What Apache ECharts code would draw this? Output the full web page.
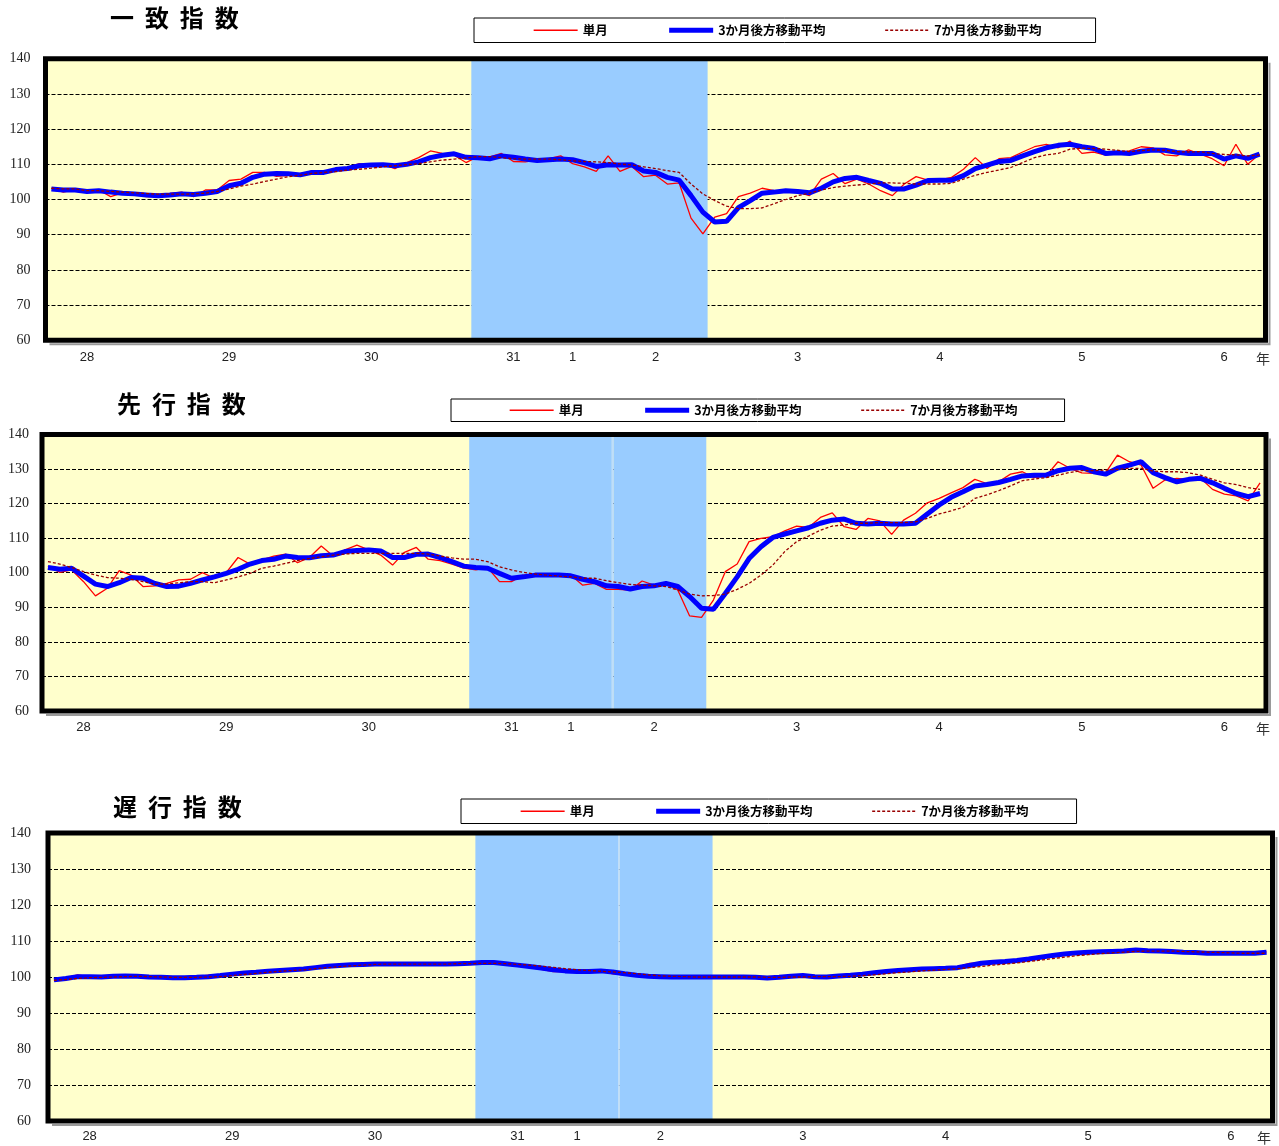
<!DOCTYPE html>
<html><head><meta charset="utf-8">
<script src="https://cdn.jsdelivr.net/npm/echarts@6/dist/echarts.min.js"></script>
<style>html,body{margin:0;padding:0;background:#fff}#c{width:1279px;height:1146px}</style>
</head><body><div id="c"></div>
<script>
// Month index 0 = 2015/10 ... 102 = 2024/4
const tickIndex  = [3, 15, 27, 39, 44, 51, 63, 75, 87, 99];
const tickLabels = ['28','29','30','31','1','2','3','4','5','6'];
const seriesNames = ['単月', '3か月後方移動平均', '7か月後方移動平均'];

// 一致指数
const coinSingle = [103.2,102.1,102.8,102.3,102.7,100.8,101.9,101.9,100.8,100.8,101.7,102.1,100.8,102.7,102.7,105.4,105.8,107.7,107.7,106.6,106.9,107.0,108.2,107.7,108.6,109.1,110.2,109.8,110.0,108.8,110.5,111.9,113.8,113.1,112.6,110.5,112.2,112.1,113.1,110.8,110.7,111.2,111.6,112.4,110.2,109.3,108.0,112.4,108.0,109.4,106.5,106.9,104.4,104.7,94.7,90.2,95.0,96.0,100.8,101.8,103.2,102.5,102.4,102.1,101.1,105.8,107.4,104.5,105.8,104.4,102.5,101.1,104.4,106.5,105.5,105.6,106.3,108.6,111.9,108.8,111.6,111.9,113.5,115.0,115.7,114.7,116.6,113.1,113.5,112.6,113.3,113.8,115.0,114.7,112.7,112.4,114.1,112.9,111.6,109.6,115.7,110.0,112.9];
const coinMA3 = [103.0,102.7,102.7,102.3,102.5,102.1,101.8,101.6,101.3,101.1,101.3,101.6,101.4,101.8,102.3,103.9,104.6,106.3,107.2,107.4,107.3,107.0,107.7,107.7,108.5,108.8,109.6,109.8,109.9,109.6,110.0,110.7,111.9,112.6,113.0,112.0,111.9,111.6,112.4,112.0,111.5,111.1,111.3,111.5,111.3,110.5,109.4,109.9,109.8,109.9,108.1,107.7,106.3,105.5,101.1,96.4,93.6,93.8,97.7,99.7,101.8,102.1,102.5,102.3,101.9,103.2,105.0,106.0,106.3,105.4,104.6,103.0,103.0,104.1,105.4,105.5,105.5,106.8,108.8,109.8,110.8,111.1,112.4,113.6,114.7,115.4,115.7,115.0,114.5,113.1,113.3,113.1,113.7,114.1,114.0,113.4,113.1,113.1,113.1,111.5,112.4,111.7,112.9];
const coinMA7 = [103.2,103.0,103.0,102.5,102.5,102.3,102.1,101.9,101.7,101.5,101.5,101.5,101.6,101.8,102.3,103.0,103.8,104.4,105.1,105.8,106.5,106.9,107.4,107.7,107.9,108.4,108.6,108.9,109.3,109.6,109.9,110.2,110.7,111.2,111.5,111.8,112.2,112.2,111.9,111.6,111.5,111.5,111.5,111.3,111.0,110.8,110.7,110.5,110.1,109.8,109.3,108.8,108.2,107.7,104.4,101.6,99.7,98.1,97.4,97.4,97.6,98.8,100.0,101.1,101.8,102.7,103.4,103.8,104.1,104.4,104.7,104.7,104.6,104.4,104.4,104.4,104.6,105.8,106.9,107.7,108.4,109.1,110.5,111.9,112.7,113.1,114.3,114.6,114.5,114.3,114.0,113.6,113.9,114.1,114.0,113.6,113.5,113.6,113.1,112.8,112.7,112.4,112.6];

// 先行指数
const leadSingle = [101.9,100.1,100.8,97.4,93.3,95.5,100.6,99.3,96.0,96.2,96.9,97.9,98.1,100.0,98.4,100.0,104.4,102.5,103.7,104.8,105.4,102.9,104.4,107.7,104.8,106.6,108.0,106.6,105.1,102.2,105.9,107.3,103.9,103.5,102.5,101.3,100.8,101.5,97.4,97.4,99.3,99.5,99.3,99.3,99.3,96.4,96.9,95.2,95.2,95.0,97.6,96.4,96.7,95.0,87.5,87.1,92.1,100.3,102.5,109.0,109.9,110.4,112.1,113.5,113.1,116.0,117.3,113.3,112.5,115.7,115.0,111.1,115.2,117.2,120.2,121.5,123.1,124.6,127.0,125.8,126.3,128.5,129.2,127.5,128.0,132.1,130.2,128.9,128.7,128.9,134.0,132.1,131.1,124.4,126.8,127.3,127.0,127.3,124.1,122.7,122.2,120.8,126.0];
const leadMA3 = [101.5,101.0,101.3,99.0,96.7,96.0,97.1,98.6,98.4,96.9,96.0,96.1,96.9,97.9,98.8,99.8,101.0,102.5,103.5,103.9,104.8,104.4,104.3,104.9,105.1,106.1,106.4,106.6,106.3,104.4,104.4,105.3,105.4,104.4,103.2,101.9,101.5,101.3,99.8,98.4,98.8,99.3,99.3,99.3,99.1,98.1,97.4,96.2,96.0,95.3,96.0,96.2,96.9,96.0,93.1,89.7,89.4,94.0,98.8,104.1,107.5,110.2,111.2,112.1,113.0,114.3,115.2,115.5,114.3,114.1,114.3,114.1,114.1,114.3,117.0,119.6,121.8,123.4,125.1,125.5,126.1,127.0,128.0,128.2,128.2,129.5,130.2,130.4,129.2,128.5,130.2,131.1,132.1,128.9,127.5,126.3,127.0,127.3,126.0,124.4,122.9,122.0,122.9];
const leadMA7 = [103.2,102.5,101.5,100.3,99.3,98.6,98.4,98.1,97.4,96.7,96.7,97.1,97.4,97.4,97.1,97.9,98.8,99.8,101.3,101.9,102.7,103.5,104.1,104.6,105.1,105.4,105.6,105.6,105.6,105.6,105.6,105.6,105.4,104.8,104.3,103.9,103.9,103.2,101.7,100.8,100.1,99.6,99.3,99.0,98.8,98.4,98.4,97.7,97.1,96.6,96.4,96.2,96.0,95.0,93.8,93.3,93.4,93.8,95.2,96.9,99.3,102.2,106.1,109.0,110.6,112.3,113.5,113.8,114.3,114.3,114.5,114.5,114.5,114.7,115.7,117.0,117.9,118.9,121.5,122.5,123.7,125.1,126.6,127.1,127.5,128.2,129.0,129.5,129.5,129.7,129.9,130.2,130.2,129.4,129.2,129.2,128.9,128.2,127.0,126.0,125.5,124.6,124.1];

// 遅行指数
const lagSingle = [98.9,99.8,100.6,100.0,99.9,100.2,100.4,100.1,99.9,99.7,99.7,99.9,100.1,100.5,100.5,101.0,101.2,101.4,101.7,101.9,102.1,102.4,102.9,103.2,103.3,103.5,103.6,103.6,103.7,103.5,103.6,103.6,103.6,103.6,103.8,103.9,104.1,103.9,103.4,103.0,102.6,102.1,101.5,101.6,101.5,101.6,101.8,100.9,100.6,100.3,100.1,100.0,100.0,100.0,100.0,100.0,100.0,100.0,100.0,99.8,99.5,100.0,100.3,100.5,100.0,100.0,100.4,100.6,100.9,101.3,101.6,101.9,102.1,102.2,102.3,102.4,102.8,103.8,103.9,104.2,104.4,104.8,105.2,105.8,106.2,106.6,106.8,106.9,107.1,107.2,107.3,107.7,107.2,107.0,107.0,106.7,106.6,106.5,106.6,106.7,106.5,106.6,107.0];
const lagMA3 = [99.2,99.6,100.1,100.1,100.0,100.2,100.3,100.2,100.0,99.9,99.8,99.8,99.9,100.1,100.4,100.8,101.1,101.3,101.6,101.8,102.0,102.2,102.6,103.0,103.2,103.4,103.5,103.6,103.6,103.6,103.6,103.6,103.6,103.6,103.7,103.8,104.0,104.0,103.7,103.3,102.9,102.5,102.0,101.7,101.5,101.5,101.7,101.4,100.9,100.5,100.2,100.1,100.0,100.0,100.0,100.0,100.0,100.0,100.0,99.9,99.7,99.9,100.2,100.4,100.1,100.0,100.3,100.5,100.8,101.2,101.5,101.8,102.0,102.2,102.3,102.4,102.6,103.2,103.8,104.1,104.3,104.6,105.0,105.5,106.0,106.4,106.7,106.9,107.0,107.1,107.2,107.5,107.3,107.2,107.1,106.9,106.8,106.6,106.6,106.6,106.6,106.6,106.9];
const lagMA7 = [99.1,99.3,99.6,99.8,99.9,100.0,100.1,100.2,100.1,100.0,99.9,99.9,99.9,100.0,100.1,100.4,100.7,101.0,101.3,101.6,101.8,102.0,102.3,102.6,102.9,103.1,103.3,103.5,103.6,103.6,103.6,103.6,103.6,103.6,103.7,103.7,103.8,103.8,103.7,103.5,103.3,103.0,102.7,102.3,102.0,101.8,101.6,101.4,101.2,100.9,100.6,100.3,100.2,100.1,100.0,100.0,100.0,100.0,100.0,100.0,99.9,99.9,100.0,100.0,100.1,100.1,100.1,100.2,100.4,100.6,100.9,101.2,101.4,101.7,101.9,102.1,102.3,102.6,102.9,103.3,103.6,103.9,104.3,104.7,105.1,105.5,105.9,106.2,106.5,106.7,106.9,107.1,107.2,107.2,107.2,107.1,107.0,106.9,106.8,106.7,106.6,106.6,106.6];

const catLabels = coinSingle.map((_, i) => {
  const k = tickIndex.indexOf(i);
  return k >= 0 ? tickLabels[k] : '';
});
const toXY = arr => arr.map((v, i) => [i, v]);

const panels = [
  { title: '一  致  指  数', single: coinSingle, ma3: coinMA3, ma7: coinMA7,
    g: { left: 45.5, top: 58.8, width: 1220, height: 281.4 },
    leg: { left: 474, top: 18, padding: [6, 54, 6, 59] },
    titlePos: [110, 6], nenPos: [1256, 352], xMargin: 11, yMargin: 15, divider: false },
  { title: '先  行  指  数', single: leadSingle, ma3: leadMA3, ma7: leadMA7,
    g: { left: 42, top: 434.4, width: 1224, height: 276.6 },
    leg: { left: 451, top: 399, padding: [5, 47, 5, 58] },
    titlePos: [117, 392], nenPos: [1256, 722], xMargin: 10, yMargin: 13, divider: true },
  { title: '遅  行  指  数', single: lagSingle, ma3: lagMA3, ma7: lagMA7,
    g: { left: 48, top: 833, width: 1224.5, height: 288 },
    leg: { left: 461, top: 799, padding: [6, 48, 6, 59] },
    titlePos: [113, 795], nenPos: [1257, 1131], xMargin: 9, yMargin: 17, divider: true }
];

const grid = [], xAxis = [], yAxis = [], series = [], legend = [], graphic = [];
const SHADE = '#99CCFF';

panels.forEach((p, k) => {
  grid.push({ left: p.g.left, top: p.g.top, width: p.g.width, height: p.g.height,
    show: true, backgroundColor: '#FFFFCC', borderWidth: 0 });
  xAxis.push({ type: 'value', gridIndex: k, position: 'top', min: -0.5, max: 102.5, show: false });
  xAxis.push({ type: 'category', gridIndex: k, position: 'bottom', data: catLabels, boundaryGap: true,
    axisLine: { show: false }, axisTick: { show: false }, splitLine: { show: false },
    axisLabel: { interval: 0, margin: p.xMargin, fontFamily: '"Liberation Sans Narrow","Liberation Sans",sans-serif',
      fontSize: 13, color: '#222' } });
  yAxis.push({ type: 'value', gridIndex: k, min: 60, max: 140, interval: 10,
    axisLine: { show: false }, axisTick: { show: false },
    axisLabel: { margin: p.yMargin, fontFamily: '"Liberation Serif",serif', fontSize: 14, color: '#222' },
    splitLine: { show: true, lineStyle: { color: '#000', width: 1, type: [4, 2] } } });

  const areas = p.divider
    ? [[{ xAxis: 35.45 }, { xAxis: 47.45 }],
       [{ xAxis: 47.45, itemStyle: { color: '#BFDDFB' } }, { xAxis: 47.6 }],
       [{ xAxis: 47.6 }, { xAxis: 55.4 }]]
    : [[{ xAxis: 35.45 }, { xAxis: 55.4 }]];

  series.push({ name: seriesNames[0], type: 'line', xAxisIndex: 2 * k, yAxisIndex: k,
    data: toXY(p.single), symbol: 'none', z: 2, animation: false,
    lineStyle: { color: '#FF0000', width: 1.3 }, itemStyle: { color: '#FF0000' },
    markArea: { silent: true, itemStyle: { color: SHADE }, data: areas } });
  series.push({ name: seriesNames[1], type: 'line', xAxisIndex: 2 * k, yAxisIndex: k,
    data: toXY(p.ma3), symbol: 'none', z: 3, animation: false,
    lineStyle: { color: '#0000FF', width: 5 }, itemStyle: { color: '#0000FF' } });
  series.push({ name: seriesNames[2], type: 'line', xAxisIndex: 2 * k, yAxisIndex: k,
    data: toXY(p.ma7), symbol: 'none', z: 4, animation: false,
    lineStyle: { color: '#990000', width: 1.3, type: [3, 2] }, itemStyle: { color: '#990000' } });

  legend.push({
    data: [
      { name: seriesNames[0], lineStyle: { width: 1.3 } },
      { name: seriesNames[1], lineStyle: { width: 5 } },
      { name: seriesNames[2], lineStyle: { width: 1.3 } }
    ],
    left: p.leg.left, top: p.leg.top, padding: p.leg.padding,
    itemWidth: 44, itemHeight: 14, itemGap: 59, borderColor: '#000', borderWidth: 1,
    backgroundColor: '#fff', selectedMode: false,
    itemStyle: { opacity: 0 },
    textStyle: { fontFamily: '"Noto Sans CJK JP",sans-serif', fontSize: 12.5, fontWeight: 'bold', color: '#000' } });

  graphic.push({ type: 'text', left: p.titlePos[0], top: p.titlePos[1], z: 100,
    style: { text: p.title, font: 'bold 24px "Noto Sans CJK JP"', fill: '#000' } });
  graphic.push({ type: 'text', left: p.nenPos[0], top: p.nenPos[1], z: 100,
    style: { text: '年', font: '14px "Noto Sans CJK JP"', fill: '#333' } });
  const L = p.g.left, T = p.g.top, W = p.g.width, H = p.g.height;
  graphic.push({ type: 'polyline', z: 99, silent: true,
    shape: { points: [[L + 4, T + H + 4], [L + W + 4, T + H + 4], [L + W + 4, T + 4]] },
    style: { stroke: '#9a9a9a', lineWidth: 2, fill: null } });
  graphic.push({ type: 'rect', z: 100, silent: true,
    shape: { x: L, y: T, width: W, height: H },
    style: { fill: null, stroke: '#000', lineWidth: 5 } });
});

const chart = echarts.init(document.getElementById('c'));
chart.setOption({ animation: false, backgroundColor: '#fff', grid, xAxis, yAxis, series, legend, graphic });
</script>
</body></html>
